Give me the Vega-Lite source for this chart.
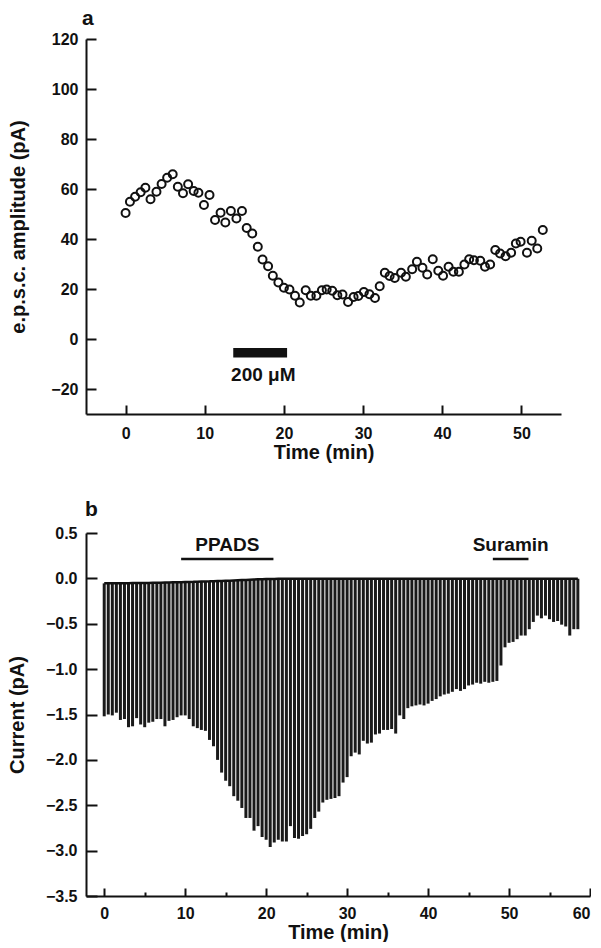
{
  "$schema": "https://vega.github.io/schema/vega-lite/v6.json",
  "padding": {"left": 7, "top": 8, "right": 0, "bottom": 0},
  "spacing": 37,
  "config": {
    "view": {"stroke": null},
    "font": "Liberation Sans",
    "axis": {
      "grid": false,
      "domainColor": "#111",
      "domainWidth": 2,
      "tickColor": "#111",
      "tickWidth": 2,
      "labelColor": "#111",
      "titleColor": "#111",
      "labelFont": "Liberation Sans",
      "labelFontWeight": "bold",
      "labelFontSize": 16,
      "titleFont": "Liberation Sans",
      "titleFontWeight": "bold",
      "titleFontSize": 20
    },
    "title": {"font": "Liberation Sans", "fontWeight": "bold", "fontSize": 21, "color": "#111"}
  },
  "datasets": {
    "epsc": [
      {"t": 0, "amp": 50.4}, {"t": 0.55, "amp": 54.9}, {"t": 1.2, "amp": 56.9}, {"t": 1.9, "amp": 58.7},
      {"t": 2.5, "amp": 60.5}, {"t": 3.15, "amp": 55.9}, {"t": 3.9, "amp": 58.9}, {"t": 4.55, "amp": 62.0},
      {"t": 5.25, "amp": 64.5}, {"t": 5.95, "amp": 65.9}, {"t": 6.6, "amp": 60.9}, {"t": 7.25, "amp": 58.3},
      {"t": 7.9, "amp": 61.9}, {"t": 8.6, "amp": 59.2}, {"t": 9.2, "amp": 58.5}, {"t": 9.9, "amp": 53.6},
      {"t": 10.6, "amp": 57.6}, {"t": 11.3, "amp": 47.6}, {"t": 12.0, "amp": 50.5}, {"t": 12.6, "amp": 46.6},
      {"t": 13.3, "amp": 51.2}, {"t": 14.0, "amp": 48.2}, {"t": 14.7, "amp": 51.2}, {"t": 15.3, "amp": 44.4},
      {"t": 16.0, "amp": 42.2}, {"t": 16.7, "amp": 36.9}, {"t": 17.3, "amp": 31.8}, {"t": 18.0, "amp": 29.1},
      {"t": 18.6, "amp": 25.3}, {"t": 19.3, "amp": 22.6}, {"t": 20.0, "amp": 20.5}, {"t": 20.7, "amp": 19.8},
      {"t": 21.4, "amp": 17.3}, {"t": 22.0, "amp": 14.6}, {"t": 22.75, "amp": 19.5}, {"t": 23.4, "amp": 17.3},
      {"t": 24.1, "amp": 17.3}, {"t": 24.8, "amp": 19.5}, {"t": 25.4, "amp": 19.8}, {"t": 26.1, "amp": 19.3},
      {"t": 26.75, "amp": 17.5}, {"t": 27.4, "amp": 17.8}, {"t": 28.1, "amp": 14.8}, {"t": 28.8, "amp": 16.8},
      {"t": 29.4, "amp": 17.2}, {"t": 30.1, "amp": 18.8}, {"t": 30.8, "amp": 17.9}, {"t": 31.5, "amp": 16.4},
      {"t": 32.1, "amp": 21.1}, {"t": 32.75, "amp": 26.5}, {"t": 33.35, "amp": 25.2}, {"t": 34.0, "amp": 24.4},
      {"t": 34.8, "amp": 26.5}, {"t": 35.4, "amp": 24.9}, {"t": 36.2, "amp": 27.9}, {"t": 36.8, "amp": 30.9},
      {"t": 37.5, "amp": 28.5}, {"t": 38.1, "amp": 25.8}, {"t": 38.8, "amp": 31.9}, {"t": 39.5, "amp": 27.3},
      {"t": 40.1, "amp": 25.3}, {"t": 40.8, "amp": 28.9}, {"t": 41.4, "amp": 26.9}, {"t": 42.1, "amp": 26.9},
      {"t": 42.8, "amp": 29.8}, {"t": 43.4, "amp": 31.9}, {"t": 44.0, "amp": 31.5}, {"t": 44.8, "amp": 31.3},
      {"t": 45.4, "amp": 28.9}, {"t": 46.05, "amp": 29.8}, {"t": 46.7, "amp": 35.6}, {"t": 47.3, "amp": 34.2},
      {"t": 48.0, "amp": 33.1}, {"t": 48.7, "amp": 34.5}, {"t": 49.3, "amp": 38.2}, {"t": 49.9, "amp": 38.9},
      {"t": 50.7, "amp": 34.5}, {"t": 51.3, "amp": 39.3}, {"t": 52.0, "amp": 36.2}, {"t": 52.7, "amp": 43.6}
    ],
    "drugA": [
      {"label": "200 μM", "t1": 13.6, "t2": 20.4, "v1": -3.6, "v2": -7.4, "tx": 17.4, "ty": -14.5}
    ],
    "current": [
      {"t": 0, "base": -0.055, "peak": -1.52}, {"t": 0.5, "base": -0.055, "peak": -1.50},
      {"t": 1.0, "base": -0.055, "peak": -1.51}, {"t": 1.5, "base": -0.054, "peak": -1.48},
      {"t": 2.0, "base": -0.054, "peak": -1.56}, {"t": 2.5, "base": -0.053, "peak": -1.55},
      {"t": 3.0, "base": -0.053, "peak": -1.64}, {"t": 3.5, "base": -0.052, "peak": -1.63},
      {"t": 4.0, "base": -0.052, "peak": -1.54}, {"t": 4.5, "base": -0.051, "peak": -1.61},
      {"t": 5.0, "base": -0.05, "peak": -1.64}, {"t": 5.5, "base": -0.05, "peak": -1.59},
      {"t": 6.0, "base": -0.049, "peak": -1.58}, {"t": 6.5, "base": -0.048, "peak": -1.55},
      {"t": 7.0, "base": -0.047, "peak": -1.55}, {"t": 7.5, "base": -0.046, "peak": -1.63},
      {"t": 8.0, "base": -0.045, "peak": -1.57}, {"t": 8.5, "base": -0.044, "peak": -1.56},
      {"t": 9.0, "base": -0.043, "peak": -1.53}, {"t": 9.5, "base": -0.042, "peak": -1.51},
      {"t": 10.0, "base": -0.04, "peak": -1.51}, {"t": 10.5, "base": -0.039, "peak": -1.55},
      {"t": 11.0, "base": -0.038, "peak": -1.63}, {"t": 11.5, "base": -0.036, "peak": -1.65},
      {"t": 12.0, "base": -0.035, "peak": -1.67}, {"t": 12.5, "base": -0.034, "peak": -1.68},
      {"t": 13.0, "base": -0.033, "peak": -1.78}, {"t": 13.5, "base": -0.031, "peak": -1.85},
      {"t": 14.0, "base": -0.03, "peak": -2.00}, {"t": 14.5, "base": -0.029, "peak": -2.14},
      {"t": 15.0, "base": -0.027, "peak": -2.23}, {"t": 15.5, "base": -0.025, "peak": -2.29},
      {"t": 16.0, "base": -0.023, "peak": -2.40}, {"t": 16.5, "base": -0.021, "peak": -2.45},
      {"t": 17.0, "base": -0.019, "peak": -2.53}, {"t": 17.5, "base": -0.017, "peak": -2.64},
      {"t": 18.0, "base": -0.015, "peak": -2.64}, {"t": 18.5, "base": -0.013, "peak": -2.78},
      {"t": 19.0, "base": -0.011, "peak": -2.73}, {"t": 19.5, "base": -0.009, "peak": -2.85},
      {"t": 20.0, "base": -0.008, "peak": -2.88}, {"t": 20.5, "base": -0.007, "peak": -2.96},
      {"t": 21.0, "base": -0.006, "peak": -2.91}, {"t": 21.5, "base": -0.005, "peak": -2.88},
      {"t": 22.0, "base": -0.005, "peak": -2.90}, {"t": 22.5, "base": -0.004, "peak": -2.90},
      {"t": 23.0, "base": -0.004, "peak": -2.73}, {"t": 23.5, "base": -0.004, "peak": -2.86},
      {"t": 24.0, "base": -0.004, "peak": -2.87}, {"t": 24.5, "base": -0.004, "peak": -2.84},
      {"t": 25.0, "base": -0.004, "peak": -2.82}, {"t": 25.5, "base": -0.004, "peak": -2.76},
      {"t": 26.0, "base": -0.004, "peak": -2.64}, {"t": 26.5, "base": -0.004, "peak": -2.57},
      {"t": 27.0, "base": -0.004, "peak": -2.47}, {"t": 27.5, "base": -0.004, "peak": -2.44},
      {"t": 28.0, "base": -0.004, "peak": -2.43}, {"t": 28.5, "base": -0.004, "peak": -2.42},
      {"t": 29.0, "base": -0.004, "peak": -2.40}, {"t": 29.5, "base": -0.004, "peak": -2.25},
      {"t": 30.0, "base": -0.004, "peak": -2.19}, {"t": 30.5, "base": -0.004, "peak": -1.96},
      {"t": 31.0, "base": -0.004, "peak": -1.92}, {"t": 31.5, "base": -0.004, "peak": -1.94},
      {"t": 32.0, "base": -0.004, "peak": -1.79}, {"t": 32.5, "base": -0.004, "peak": -1.82},
      {"t": 33.0, "base": -0.004, "peak": -1.81}, {"t": 33.5, "base": -0.004, "peak": -1.72},
      {"t": 34.0, "base": -0.004, "peak": -1.71}, {"t": 34.5, "base": -0.004, "peak": -1.67},
      {"t": 35.0, "base": -0.004, "peak": -1.67}, {"t": 35.5, "base": -0.004, "peak": -1.66},
      {"t": 36.0, "base": -0.004, "peak": -1.71}, {"t": 36.5, "base": -0.004, "peak": -1.51},
      {"t": 37.0, "base": -0.004, "peak": -1.55}, {"t": 37.5, "base": -0.004, "peak": -1.43},
      {"t": 38.0, "base": -0.004, "peak": -1.41}, {"t": 38.5, "base": -0.004, "peak": -1.40},
      {"t": 39.0, "base": -0.004, "peak": -1.39}, {"t": 39.5, "base": -0.004, "peak": -1.40},
      {"t": 40.0, "base": -0.004, "peak": -1.38}, {"t": 40.5, "base": -0.004, "peak": -1.35},
      {"t": 41.0, "base": -0.004, "peak": -1.33}, {"t": 41.5, "base": -0.004, "peak": -1.30},
      {"t": 42.0, "base": -0.004, "peak": -1.28}, {"t": 42.5, "base": -0.004, "peak": -1.27},
      {"t": 43.0, "base": -0.004, "peak": -1.25}, {"t": 43.5, "base": -0.004, "peak": -1.22},
      {"t": 44.0, "base": -0.004, "peak": -1.24}, {"t": 44.5, "base": -0.004, "peak": -1.22},
      {"t": 45.0, "base": -0.004, "peak": -1.18}, {"t": 45.5, "base": -0.004, "peak": -1.17},
      {"t": 46.0, "base": -0.004, "peak": -1.15}, {"t": 46.5, "base": -0.004, "peak": -1.16},
      {"t": 47.0, "base": -0.004, "peak": -1.14}, {"t": 47.5, "base": -0.004, "peak": -1.15},
      {"t": 48.0, "base": -0.004, "peak": -1.14}, {"t": 48.5, "base": -0.004, "peak": -1.13},
      {"t": 49.0, "base": -0.004, "peak": -0.96}, {"t": 49.5, "base": -0.004, "peak": -0.76},
      {"t": 50.0, "base": -0.004, "peak": -0.71}, {"t": 50.5, "base": -0.004, "peak": -0.70},
      {"t": 51.0, "base": -0.004, "peak": -0.67}, {"t": 51.5, "base": -0.004, "peak": -0.63},
      {"t": 52.0, "base": -0.004, "peak": -0.63}, {"t": 52.5, "base": -0.004, "peak": -0.56},
      {"t": 53.0, "base": -0.004, "peak": -0.48}, {"t": 53.5, "base": -0.004, "peak": -0.41},
      {"t": 54.0, "base": -0.004, "peak": -0.44}, {"t": 54.5, "base": -0.004, "peak": -0.41},
      {"t": 55.0, "base": -0.004, "peak": -0.45}, {"t": 55.5, "base": -0.004, "peak": -0.48},
      {"t": 56.0, "base": -0.004, "peak": -0.47}, {"t": 56.5, "base": -0.004, "peak": -0.51},
      {"t": 57.0, "base": -0.004, "peak": -0.53}, {"t": 57.5, "base": -0.004, "peak": -0.63},
      {"t": 58.0, "base": -0.004, "peak": -0.56}, {"t": 58.5, "base": -0.004, "peak": -0.56}
    ],
    "drugB": [
      {"label": "PPADS", "t1": 9.5, "t2": 20.9, "v": 0.213, "tx": 15.2, "ty": 0.37},
      {"label": "Suramin", "t1": 48.0, "t2": 52.4, "v": 0.213, "tx": 50.2, "ty": 0.37}
    ]
  },
  "vconcat": [
    {
      "title": {"text": "a", "anchor": "start", "frame": "group", "dx": -4, "offset": 2},
      "width": 475,
      "height": 375,
      "layer": [
        {
          "data": {"name": "epsc"},
          "mark": {"type": "point", "shape": "circle", "filled": false, "size": 64, "strokeWidth": 2, "color": "#111", "opacity": 1},
          "encoding": {
            "x": {"field": "t", "type": "quantitative",
                  "scale": {"domain": [-5, 55], "nice": false, "zero": false},
                  "axis": {"values": [0, 10, 20, 30, 40, 50], "title": "Time (min)", "tickSize": -9, "labelPadding": 20, "titlePadding": 1}},
            "y": {"field": "amp", "type": "quantitative",
                  "scale": {"domain": [-30, 120], "nice": false, "zero": false},
                  "axis": {"values": [-20, 0, 20, 40, 60, 80, 100, 120], "title": "e.p.s.c. amplitude (pA)", "tickSize": -10, "labelPadding": 18, "titlePadding": 22}}
          }
        },
        {
          "data": {"name": "drugA"},
          "mark": {"type": "rect", "color": "#111"},
          "encoding": {
            "x": {"field": "t1", "type": "quantitative"},
            "x2": {"field": "t2"},
            "y": {"field": "v1", "type": "quantitative"},
            "y2": {"field": "v2"}
          }
        },
        {
          "data": {"name": "drugA"},
          "mark": {"type": "text", "font": "Liberation Sans", "fontWeight": "bold", "fontSize": 19, "color": "#111", "baseline": "middle", "align": "center"},
          "encoding": {
            "x": {"field": "tx", "type": "quantitative"},
            "y": {"field": "ty", "type": "quantitative"},
            "text": {"field": "label"}
          }
        }
      ]
    },
    {
      "title": {"text": "b", "anchor": "start", "frame": "group", "dx": -1, "offset": 5},
      "width": 504,
      "height": 363,
      "layer": [
        {
          "data": {"name": "current"},
          "mark": {"type": "rule", "strokeWidth": 3, "color": "#1a1a1a"},
          "encoding": {
            "x": {"field": "t", "type": "quantitative",
                  "scale": {"domain": [-2.25, 60], "nice": false, "zero": false},
                  "axis": {"values": [0, 5, 10, 15, 20, 25, 30, 35, 40, 45, 50, 55, 60], "title": "Time (min)",
                           "tickSize": {"condition": {"test": "datum.value % 10 === 0", "value": -8}, "value": -4},
                           "labelExpr": "datum.value % 10 === 0 ? datum.label : ''",
                           "labelPadding": 17, "titlePadding": 1}},
            "y": {"field": "base", "type": "quantitative",
                  "scale": {"domain": [-3.5, 0.5], "nice": false, "zero": false},
                  "axis": {"values": [-3.5, -3.25, -3, -2.75, -2.5, -2.25, -2, -1.75, -1.5, -1.25, -1, -0.75, -0.5, -0.25, 0, 0.25, 0.5],
                           "title": "Current (pA)",
                           "tickSize": {"condition": {"test": "abs(datum.value * 2 - round(datum.value * 2)) < 0.001", "value": -11}, "value": -5},
                           "labelExpr": "abs(datum.value * 2 - round(datum.value * 2)) < 0.001 ? format(datum.value, '.1f') : ''",
                           "labelPadding": 20, "titlePadding": 18}},
            "y2": {"field": "peak"}
          }
        },
        {
          "data": {"name": "current"},
          "mark": {"type": "line", "strokeWidth": 2.5, "color": "#111"},
          "encoding": {
            "x": {"field": "t", "type": "quantitative"},
            "y": {"field": "base", "type": "quantitative"}
          }
        },
        {
          "data": {"name": "drugB"},
          "mark": {"type": "rule", "strokeWidth": 2.5, "color": "#111"},
          "encoding": {
            "x": {"field": "t1", "type": "quantitative"},
            "x2": {"field": "t2"},
            "y": {"field": "v", "type": "quantitative"}
          }
        },
        {
          "data": {"name": "drugB"},
          "mark": {"type": "text", "font": "Liberation Sans", "fontWeight": "bold", "fontSize": 19, "color": "#111", "baseline": "middle", "align": "center"},
          "encoding": {
            "x": {"field": "tx", "type": "quantitative"},
            "y": {"field": "ty", "type": "quantitative"},
            "text": {"field": "label"}
          }
        }
      ]
    }
  ]
}
